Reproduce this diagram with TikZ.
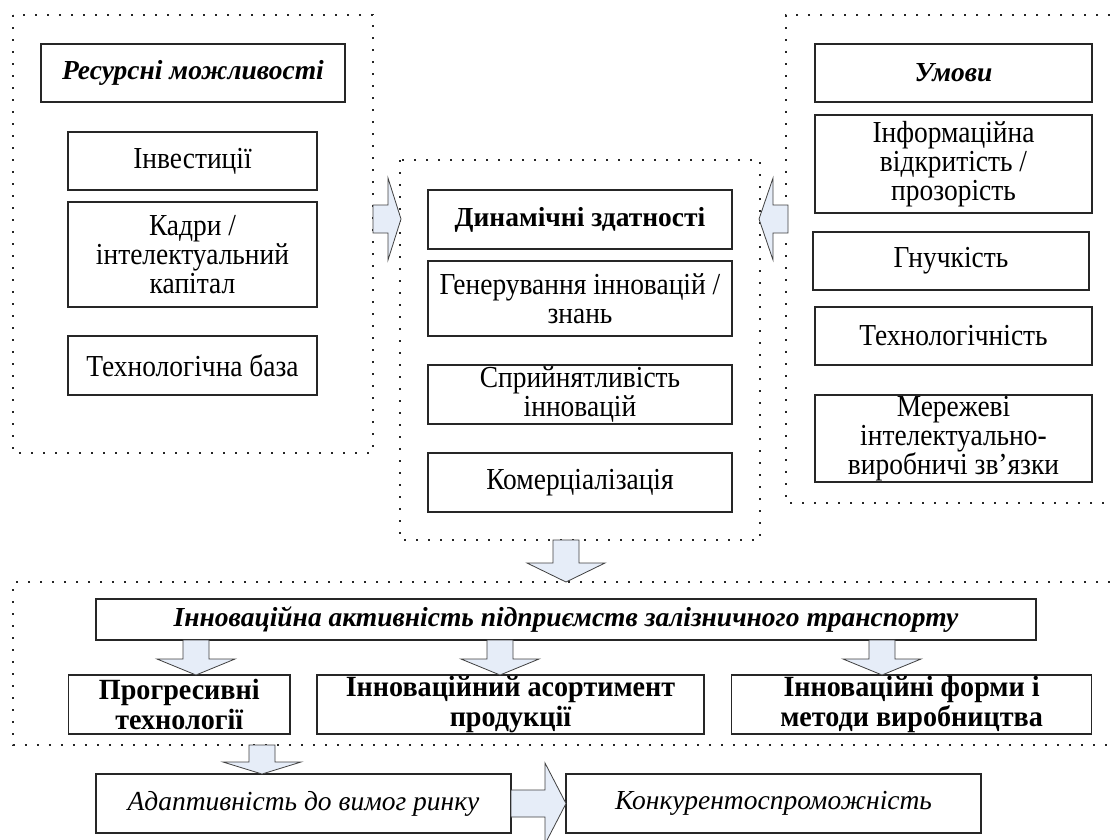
\documentclass[tikz,border=0pt]{standalone}
\usepackage{fontspec}
\setmainfont{Liberation Serif}
\newfontfamily\regfont{Liberation Serif}[FakeStretch=0.9]
\newfontfamily\bfont{Liberation Serif Bold}[FakeStretch=0.96]
\definecolor{arrowfill}{RGB}{230,237,248}
\newcommand\downblock[4]{%
  \draw[blockarrow] (#1-13,#2) -- (#1+13,#2) -- (#1+13,#3) -- (#1+39,#3) -- (#1,#4) -- (#1-39,#3) -- (#1-13,#3) -- cycle;}
% #1 x start, #2 x head base, #3 x tip, #4 y centre, #5 shaft half, #6 head half
\newcommand\horizblock[6]{%
  \draw[blockarrow] (#1,#4-#5) -- (#2,#4-#5) -- (#2,#4-#6) -- (#3,#4) -- (#2,#4+#6) -- (#2,#4+#5) -- (#1,#4+#5) -- cycle;}
\begin{document}
\begin{tikzpicture}[x=1pt,y=-1pt,
  box/.style={draw=black!85, line width=1.1pt, inner sep=0pt, outer sep=0pt, align=center,
    font=\fontsize{27.5}{29}\selectfont},
  reg/.style={font=\regfont\fontsize{30.5}{29}\selectfont},
  bbold/.style={font=\bfont\fontsize{29.3}{30}\selectfont},
  dotbox/.style={draw=black!85, line width=1.8pt, dash pattern=on 1.8pt off 10.2pt},
  blockarrow/.style={fill=arrowfill, draw=black!75, line width=0.8pt, line join=miter}]
\useasboundingbox (0,0) rectangle (1110,839);

% dotted frames
\draw[dotbox] (13,15) rectangle (373,453);
\draw[dotbox] (400,160) rectangle (760,540);
\draw[dotbox] (1110,15) -- (786,15) -- (786,503) -- (1110,503);
\draw[dotbox] (1110,582) -- (13,582) -- (13,745) -- (1110,745);

% left column
\node[box, minimum width=304, minimum height=58] (res) at (193,73) {\textbf{\textit{Ресурсні можливості}}};
\node[box, reg, minimum width=249, minimum height=58] (inv) at (192.5,161) {Інвестиції};
\node[box, reg, minimum width=249, minimum height=105] (kadry) at (192.5,254.5) {Кадри /\\інтелектуальний\\капітал};
\node[box, reg, minimum width=249, minimum height=59] (techb) at (192.5,365.5) {Технологічна база};

% middle column
\node[box, minimum width=304, minimum height=59] (din) at (580,219.5) {\textbf{Динамічні здатності}};
\node[box, reg, minimum width=304, minimum height=75] (gen) at (580,298.5) {Генерування інновацій /\\знань};
\node[box, reg, minimum width=304, minimum height=59] (spr) at (580,394.5) {Сприйнятливість\\інновацій};
\node[box, reg, minimum width=304, minimum height=59] (kom) at (580,482.5) {Комерціалізація};

% right column
\node[box, minimum width=277, minimum height=58] (umovy) at (953.5,73) {\textbf{\textit{Умови}}};
\node[box, reg, minimum width=277, minimum height=98] (info) at (953.5,164) {Інформаційна\\відкритість /\\прозорість};
\node[box, reg, minimum width=276, minimum height=58] (hnuch) at (951,261) {Гнучкість};
\node[box, reg, minimum width=277, minimum height=58] (techn) at (953.5,336) {Технологічність};
\node[box, reg, minimum width=277, minimum height=87] (merezh) at (953.5,438.5) {Мережеві\\інтелектуально-\\виробничі зв’язки};

% bottom part
\node[box, minimum width=940, minimum height=41] (akt) at (566,619.5) {\textbf{\textit{Інноваційна активність підприємств залізничного транспорту}}};
\node[box, bbold, minimum width=221.4, minimum height=59] (prog) at (179.3,704.5) {Прогресивні\\технології};
\node[box, bbold, minimum width=387, minimum height=59] (asort) at (510.5,704.5) {Інноваційний асортимент\\продукції};
\node[box, bbold, minimum width=360, minimum height=59] (formy) at (911.6,704.5) {Інноваційні форми і\\методи виробництва};
\node[box, minimum width=415, minimum height=59] (adapt) at (303.5,803.5) {\textit{Адаптивність до вимог ринку}};
\node[box, minimum width=415, minimum height=59] (konk) at (773.5,803.5) {\textit{Конкурентоспроможність}};

% block arrows
\horizblock{373}{388}{401}{219}{14}{41}
\horizblock{788}{773}{759}{219}{14}{41}
\downblock{566}{540}{563}{582}
\downblock{196}{640}{659}{675}
\downblock{500}{640}{659}{675}
\downblock{882}{640}{659}{675}
\downblock{262}{745}{762}{774}
\horizblock{511}{545}{566}{803.5}{13.5}{40.5}
\end{tikzpicture}
\end{document}
